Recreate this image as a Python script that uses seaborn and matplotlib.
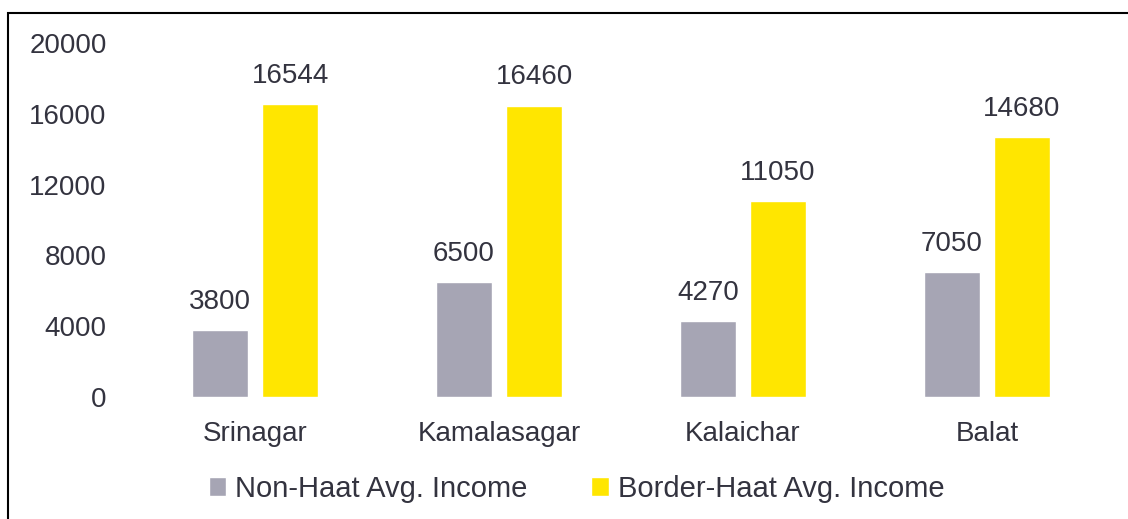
import pandas as pd
import matplotlib.pyplot as plt
import seaborn as sns
from matplotlib.patches import Rectangle

# Chart data
sites = ["Srinagar", "Kamalasagar", "Kalaichar", "Balat"]
non_haat = [3800, 6500, 4270, 7050]
border_haat = [16544, 16460, 11050, 14680]
series_names = ["Non-Haat Avg. Income", "Border-Haat Avg. Income"]
y_ticks = [0, 4000, 8000, 12000, 16000, 20000]

colors = ["#A6A5B4", "#FFE600"]
text_color = "#33333F"

df = pd.DataFrame({
    "Site": sites * 2,
    "Income": non_haat + border_haat,
    "Series": [series_names[0]] * len(sites) + [series_names[1]] * len(sites),
})

sns.set_style("white")
plt.rcParams["font.family"] = ["Liberation Sans", "DejaVu Sans"]

fig = plt.figure(figsize=(11.28, 5.19), dpi=100)
ax = fig.add_axes([0.118, 0.235, 0.865, 0.682])

sns.barplot(data=df, x="Site", y="Income", hue="Series", palette=colors,
            width=0.574, gap=0.2, saturation=1, ax=ax, legend=True)

# Value labels above bars
for container in ax.containers:
    ax.bar_label(container, fmt="%d", padding=11, fontsize=20, color=text_color)

ax.set_ylim(0, 20000)
ax.set_xlim(-0.5, 3.5)
ax.set_yticks(y_ticks)
ax.set_yticklabels([str(t) for t in y_ticks])
ax.tick_params(axis="y", length=0, pad=19, labelsize=20, labelcolor=text_color)
ax.tick_params(axis="x", length=0, pad=17, labelsize=20, labelcolor=text_color)
ax.set_xlabel("")
ax.set_ylabel("")
for s in ax.spines.values():
    s.set_visible(False)

# Legend at bottom
ax.get_legend().remove()
handles, labels = ax.get_legend_handles_labels()
leg = fig.legend(handles, labels, loc="center", bbox_to_anchor=(0.511, 0.058),
                 ncol=2, frameon=False, fontsize=21, handlelength=0.6,
                 handleheight=0.6, handletextpad=0.3, columnspacing=2.2)
for t in leg.get_texts():
    t.set_color(text_color)

# Outer frame (only top and left visible in the crop)
fig.patches.append(Rectangle((8 / 1128, -0.1), 1.2, 1 - 13 / 519 + 0.1,
                             transform=fig.transFigure, fill=False,
                             edgecolor="black", linewidth=1.5))

fig.savefig("out.png", dpi=100)
